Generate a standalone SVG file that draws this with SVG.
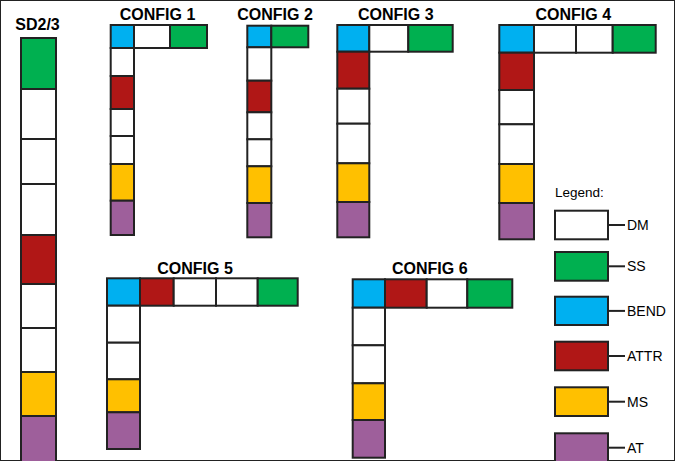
<svg xmlns="http://www.w3.org/2000/svg" width="675" height="461" viewBox="0 0 675 461">
<style>
rect{stroke:#222;stroke-width:2}
.dm{fill:#fff}.ss{fill:#00B050}.bend{fill:#00B0F0}.attr{fill:#B01716}.ms{fill:#FFC000}.at{fill:#9E5F9B}
.t{font-family:"Liberation Sans",Arial,sans-serif;font-weight:bold;font-size:16px;text-anchor:middle;fill:#000}
.l{font-family:"Liberation Sans",Arial,sans-serif;font-size:14px;fill:#000}
.c{stroke:#222;stroke-width:2;fill:none}
</style>
<rect x="0" y="0" width="675" height="461" fill="#fff" stroke="none"/>
<g id="sd23">
<text class="t" x="37.5" y="30">SD2/3</text>
<rect class="ss" x="21" y="38" width="35" height="51"/>
<rect class="dm" x="21" y="89" width="35" height="50"/>
<rect class="dm" x="21" y="139" width="35" height="45"/>
<rect class="dm" x="21" y="184" width="35" height="51"/>
<rect class="attr" x="21" y="235" width="35" height="49"/>
<rect class="dm" x="21" y="284" width="35" height="44"/>
<rect class="dm" x="21" y="328" width="35" height="44"/>
<rect class="ms" x="21" y="372" width="35" height="44"/>
<rect class="at" x="21" y="416" width="35" height="50"/>
</g>
<g id="config1">
<text class="t" x="157.5" y="20">CONFIG 1</text>
<rect class="bend" x="110.7" y="25" width="23.3" height="23"/>
<rect class="dm" x="134" y="25" width="36" height="23"/>
<rect class="ss" x="170" y="25" width="37" height="23"/>
<rect class="dm" x="110.7" y="48" width="23.3" height="28"/>
<rect class="attr" x="110.7" y="76" width="23.3" height="33"/>
<rect class="dm" x="110.7" y="109" width="23.3" height="27"/>
<rect class="dm" x="110.7" y="136" width="23.3" height="28"/>
<rect class="ms" x="110.7" y="164" width="23.3" height="36.7"/>
<rect class="at" x="110.7" y="200.7" width="23.3" height="34.3"/>
</g>
<g id="config2">
<text class="t" x="275" y="20">CONFIG 2</text>
<rect class="bend" x="247.3" y="25.7" width="24" height="21.6"/>
<rect class="ss" x="271.3" y="25.7" width="37" height="21.6"/>
<rect class="dm" x="247.3" y="47.3" width="24" height="33.4"/>
<rect class="attr" x="247.3" y="80.7" width="24" height="31.6"/>
<rect class="dm" x="247.3" y="112.3" width="24" height="27"/>
<rect class="dm" x="247.3" y="139.3" width="24" height="27"/>
<rect class="ms" x="247.3" y="166.3" width="24" height="36.7"/>
<rect class="at" x="247.3" y="203" width="24" height="34.3"/>
</g>
<g id="config3">
<text class="t" x="395.8" y="20">CONFIG 3</text>
<rect class="bend" x="337.3" y="25" width="32" height="26.7"/>
<rect class="dm" x="369.3" y="25" width="39" height="26.7"/>
<rect class="ss" x="408.3" y="25" width="44.4" height="26.7"/>
<rect class="attr" x="337.3" y="51.7" width="32" height="37"/>
<rect class="dm" x="337.3" y="88.7" width="32" height="35"/>
<rect class="dm" x="337.3" y="123.7" width="32" height="39.6"/>
<rect class="ms" x="337.3" y="163.3" width="32" height="38.7"/>
<rect class="at" x="337.3" y="202" width="32" height="35.3"/>
</g>
<g id="config4">
<text class="t" x="573.3" y="20">CONFIG 4</text>
<rect class="bend" x="499.3" y="25" width="34.7" height="27.7"/>
<rect class="dm" x="534" y="25" width="42" height="27.7"/>
<rect class="dm" x="576" y="25" width="36.7" height="27.7"/>
<rect class="ss" x="612.7" y="25" width="43" height="27.7"/>
<rect class="attr" x="499.3" y="52.7" width="34.7" height="37.3"/>
<rect class="dm" x="499.3" y="90" width="34.7" height="34.3"/>
<rect class="dm" x="499.3" y="124.3" width="34.7" height="39.7"/>
<rect class="ms" x="499.3" y="164" width="34.7" height="39"/>
<rect class="at" x="499.3" y="203" width="34.7" height="36.3"/>
</g>
<g id="config5">
<text class="t" x="195" y="274">CONFIG 5</text>
<rect class="bend" x="107" y="278.3" width="33" height="27.4"/>
<rect class="attr" x="140" y="278.3" width="33.7" height="27.4"/>
<rect class="dm" x="173.7" y="278.3" width="42.3" height="27.4"/>
<rect class="dm" x="216" y="278.3" width="41.7" height="27.4"/>
<rect class="ss" x="257.7" y="278.3" width="40" height="27.4"/>
<rect class="dm" x="107" y="305.7" width="33" height="37"/>
<rect class="dm" x="107" y="342.7" width="33" height="36.6"/>
<rect class="ms" x="107" y="379.3" width="33" height="33"/>
<rect class="at" x="107" y="412.3" width="33" height="36.7"/>
</g>
<g id="config6">
<text class="t" x="429.8" y="274">CONFIG 6</text>
<rect class="bend" x="352.7" y="279.3" width="32.3" height="28.4"/>
<rect class="attr" x="385" y="279.3" width="41.7" height="28.4"/>
<rect class="dm" x="426.7" y="279.3" width="40.6" height="28.4"/>
<rect class="ss" x="467.3" y="279.3" width="45" height="28.4"/>
<rect class="dm" x="352.7" y="307.7" width="32.3" height="37.6"/>
<rect class="dm" x="352.7" y="345.3" width="32.3" height="38"/>
<rect class="ms" x="352.7" y="383.3" width="32.3" height="36.7"/>
<rect class="at" x="352.7" y="420" width="32.3" height="37.7"/>
</g>
<g id="legend">
<text class="l" x="555" y="196.7" style="font-size:13.5px">Legend:</text>
<g id="legend-dm"><rect class="dm" x="555" y="210.7" width="53" height="28.6"/><text class="l" x="627" y="230">DM</text></g>
<g id="legend-ss"><rect class="ss" x="555" y="252" width="53" height="28.7"/><text class="l" x="627" y="271.3">SS</text></g>
<g id="legend-bend"><rect class="bend" x="555" y="296.7" width="53" height="28.3"/><text class="l" x="627" y="315.9">BEND</text></g>
<g id="legend-attr"><rect class="attr" x="555" y="341.7" width="53" height="28.6"/><text class="l" x="627" y="361">ATTR</text></g>
<g id="legend-ms"><rect class="ms" x="555" y="387.3" width="53" height="28.7"/><text class="l" x="627" y="406.7">MS</text></g>
<g id="legend-at"><rect class="at" x="555" y="433.3" width="53" height="28.7"/><text class="l" x="627" y="452.7">AT</text></g>
</g>
<g id="connectors">
<line class="c" x1="608" y1="225" x2="625" y2="225"/>
<line class="c" x1="608" y1="266.3" x2="625" y2="266.3"/>
<line class="c" x1="608" y1="310.9" x2="625" y2="310.9"/>
<line class="c" x1="608" y1="356" x2="625" y2="356"/>
<line class="c" x1="608" y1="401.7" x2="625" y2="401.7"/>
<line class="c" x1="608" y1="447.7" x2="625" y2="447.7"/>
</g>
</svg>
